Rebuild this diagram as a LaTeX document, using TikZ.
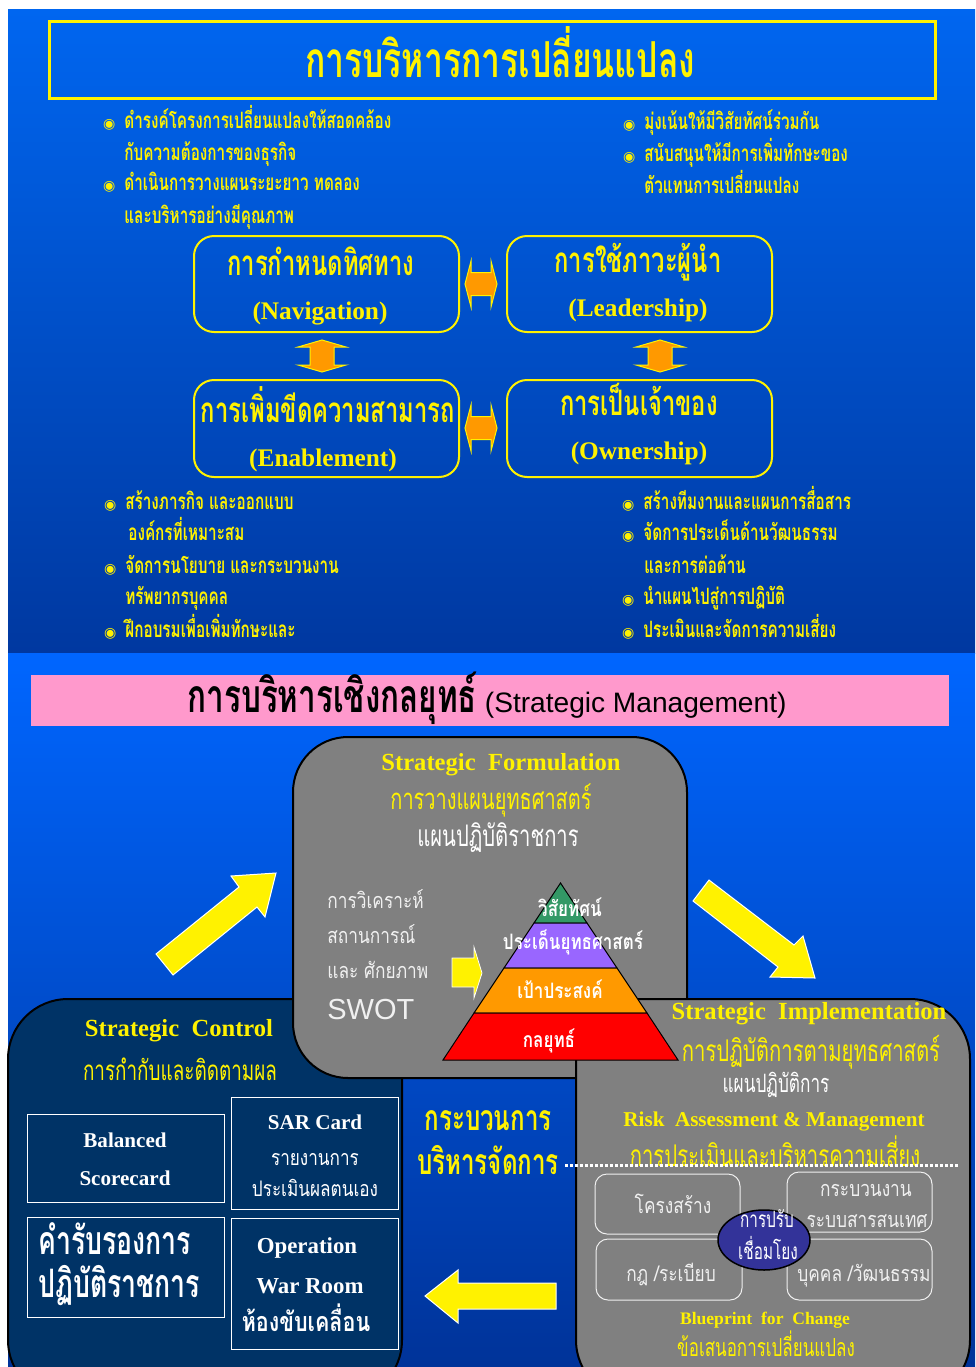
\documentclass[tikz,border=0pt]{standalone}
\usepackage{fontspec}
\usetikzlibrary{shapes.geometric}
\newfontfamily\thaicn[Script=Thai,FakeStretch=0.68]{Loma}
\newfontfamily\thaiwd[Script=Thai,FakeStretch=0.8]{Loma}
\newfontfamily\latser{Liberation Serif}
\newfontfamily\latsans{Liberation Sans}
\newfontfamily\symfont{DejaVu Sans}
\newcommand{\fsz}[1]{\fontsize{#1}{#1}\selectfont}
\newcommand{\itm}{\llap{{\symfont\mdseries\fsz{8}◉}\hspace{1.8mm}}}
\definecolor{panelhi}{RGB}{0,102,240}
\definecolor{panello}{RGB}{0,56,160}
\definecolor{lowhi}{RGB}{0,102,255}
\definecolor{lowlo}{RGB}{0,51,153}
\definecolor{dblorange}{RGB}{255,153,0}
\definecolor{bannerpink}{RGB}{255,153,204}
\definecolor{stepgray}{RGB}{128,128,128}
\definecolor{ctrlnavy}{RGB}{0,51,102}
\definecolor{pyrgreen}{RGB}{51,153,102}
\definecolor{pyrpurple}{RGB}{153,102,255}
\definecolor{linkblue}{RGB}{51,51,153}
\definecolor{softwhite}{RGB}{240,240,240}
\begin{document}
\begin{tikzpicture}[scale=0.2,
  bul/.style={anchor=base west,text=yellow,font=\thaicn\bfseries\fsz{12.8}},
  boxth/.style={anchor=base,text=yellow,font=\thaicn\bfseries\fsz{19.9}},
  boxen/.style={anchor=base,text=yellow,font=\latser\bfseries\fsz{14.4}},
  navbox/.style={draw=yellow,line width=0.4mm,rounded corners=4mm},
  dblarr/.style={fill=dblorange,draw=yellow,line width=0.2mm},
  bigarr/.style={fill=yellow,draw=white,line width=0.2mm},
  heading/.style={anchor=base,text=yellow,font=\latser\bfseries\fsz{14}},
  thy/.style={anchor=base,text=yellow,font=\thaicn\fsz{17}},
  thw/.style={anchor=base,text=white,font=\thaicn\fsz{14.4}},
  pyr/.style={draw=black,line width=0.2mm},
  pyrtx/.style={anchor=base,text=white,font=\thaiwd\bfseries\fsz{12.1}},
  cell/.style={draw=white,line width=0.2mm},
  cellen/.style={anchor=base,text=white,font=\latser\bfseries\fsz{12}},
  cellth/.style={anchor=base,text=white,font=\thaiwd\fsz{12.2}},
  part/.style={draw=softwhite,line width=0.2mm,rounded corners=2.4mm},
  partth/.style={anchor=base,text=softwhite,font=\thaiwd\fsz{12.3}}
]
\tikzstyle{every node}+=[inner sep=0pt]
\useasboundingbox (0,0) rectangle (97.5,-136.7);
\clip (0,0) rectangle (97.5,-136.7);
\shade[top color=panelhi,bottom color=panello] (0.8,-0.9) rectangle (97.5,-65.3);
\shade[top color=lowhi,bottom color=lowlo] (0.8,-65.3) rectangle (97.5,-136.7);

\draw[yellow,line width=0.6mm] (4.9,-2.1) rectangle (93.5,-9.8);
\node[anchor=base,text=yellow,font=\thaicn\bfseries\fsz{28.2}] (title) at (50.0,-7.7) {การบริหารการเปลี่ยนแปลง};

\node[bul] (navA) at (12.4,-12.85) {\itm ดำรงค์โครงการเปลี่ยนแปลงให้สอดคล้อง};
\node[bul] (navB) at (12.4,-16.05) {กับความต้องการของธุรกิจ};
\node[bul] (navC) at (12.4,-19.05) {\itm ดำเนินการวางแผนระยะยาว ทดลอง};
\node[bul] (navD) at (12.4,-22.35) {และบริหารอย่างมีคุณภาพ};
\node[bul] (leadA) at (64.4,-12.95) {\itm มุ่งเน้นให้มีวิสัยทัศน์ร่วมกัน};
\node[bul] (leadB) at (64.4,-16.15) {\itm สนับสนุนให้มีการเพิ่มทักษะของ};
\node[bul] (leadC) at (64.4,-19.35) {ตัวแทนการเปลี่ยนแปลง};

\draw[navbox] (19.4,-23.6) rectangle (45.9,-33.2);
\node[boxth] (navth) at (32.1,-27.5) {การกำหนดทิศทาง};
\node[boxen] (naven) at (32.0,-31.9) {(Navigation)};
\draw[navbox] (50.7,-23.6) rectangle (77.2,-33.2);
\node[boxth] (leadth) at (63.8,-27.2) {การใช้ภาวะผู้นำ};
\node[boxen] (leaden) at (63.8,-31.6) {(Leadership)};
\draw[navbox] (19.4,-38.0) rectangle (45.9,-47.7);
\node[boxth] (enabth) at (32.8,-42.2) {การเพิ่มขีดความสามารถ};
\node[boxen] (enaben) at (32.3,-46.6) {(Enablement)};
\draw[navbox] (50.7,-38.0) rectangle (77.2,-47.7);
\node[boxth] (ownth) at (63.9,-41.5) {การเป็นเจ้าของ};
\node[boxen] (ownen) at (63.9,-45.9) {(Ownership)};

\filldraw[dblarr,shift={(48.1,-28.4)}] (-1.6,0) -- (-1,2.3) -- (-1,1.15) -- (1,1.15) -- (1,2.3) -- (1.6,0) -- (1,-2.3) -- (1,-1.15) -- (-1,-1.15) -- (-1,-2.3) -- cycle;
\filldraw[dblarr,shift={(48.1,-42.8)}] (-1.6,0) -- (-1,2.3) -- (-1,1.15) -- (1,1.15) -- (1,2.3) -- (1.6,0) -- (1,-2.3) -- (1,-1.15) -- (-1,-1.15) -- (-1,-2.3) -- cycle;
\filldraw[dblarr,shift={(32.2,-35.6)}] (0,1.6) -- (2.4,0.9) -- (1.2,0.9) -- (1.2,-0.9) -- (2.4,-0.9) -- (0,-1.6) -- (-2.4,-0.9) -- (-1.2,-0.9) -- (-1.2,0.9) -- (-2.4,0.9) -- cycle;
\filldraw[dblarr,shift={(66.0,-35.6)}] (0,1.6) -- (2.4,0.9) -- (1.2,0.9) -- (1.2,-0.9) -- (2.4,-0.9) -- (0,-1.6) -- (-2.4,-0.9) -- (-1.2,-0.9) -- (-1.2,0.9) -- (-2.4,0.9) -- cycle;

\node[bul] (enabA) at (12.5,-50.95) {\itm สร้างภารกิจ และออกแบบ};
\node[bul] (enabB) at (12.8,-54.05) {องค์กรที่เหมาะสม};
\node[bul] (enabC) at (12.5,-57.35) {\itm จัดการนโยบาย และกระบวนงาน};
\node[bul] (enabD) at (12.5,-60.45) {ทรัพยากรบุคคล};
\node[bul] (enabE) at (12.5,-63.75) {\itm ฝึกอบรมเพื่อเพิ่มทักษะและ};
\node[bul] (ownA) at (64.3,-50.95) {\itm สร้างทีมงานและแผนการสื่อสาร};
\node[bul] (ownB) at (64.3,-54.05) {\itm จัดการประเด็นด้านวัฒนธรรม};
\node[bul] (ownC) at (64.4,-57.35) {และการต่อต้าน};
\node[bul] (ownD) at (64.3,-60.45) {\itm นำแผนไปสู่การปฏิบัติ};
\node[bul] (ownE) at (64.3,-63.75) {\itm ประเมินและจัดการความเสี่ยง};

\fill[bannerpink] (3.1,-67.5) rectangle (94.9,-72.6);
\node[anchor=base,font=\latsans\fsz{16}] (banner) at (48.7,-71.2) {{\thaicn\bfseries\fsz{26.3}การบริหารเชิงกลยุทธ์} (Strategic Management)};

\filldraw[bigarr] (15.6,-95.4) -- (23.9,-88.7) -- (23.1,-87.6) -- (27.6,-87.3) -- (26.5,-91.7) -- (25.7,-90.7) -- (17.3,-97.5) -- cycle;
\filldraw[bigarr] (69.3,-90.1) -- (70.9,-88.0) -- (79.4,-94.5) -- (80.3,-93.6) -- (81.5,-97.8) -- (77.0,-97.7) -- (77.8,-96.7) -- cycle;

\filldraw[fill=ctrlnavy,draw=black,line width=0.4mm,rounded corners=12mm] (0.8,-99.9) rectangle (40.2,-140);
\node[heading] (ctrl) at (17.9,-103.6) {Strategic\ \ Control};
\node[thy,font=\thaicn\fsz{15.8}] (ctrlth) at (18.0,-108.0) {การกำกับและติดตามผล};
\draw[cell] (2.7,-111.4) rectangle (22.4,-120.2);
\node[cellen] (bscA) at (12.5,-114.7) {Balanced};
\node[cellen] (bscB) at (12.5,-118.5) {Scorecard};
\draw[cell] (23.1,-109.7) rectangle (39.8,-120.9);
\node[cellen] (sar) at (31.5,-112.9) {SAR Card};
\node[cellth] (sarA) at (31.5,-116.5) {รายงานการ};
\node[cellth] (sarB) at (31.5,-119.6) {ประเมินผลตนเอง};
\draw[cell] (2.7,-121.7) rectangle (22.4,-131.7);
\node[anchor=base west,text=white,font=\thaicn\bfseries\fsz{22.3}] (pactA) at (3.8,-125.4) {คำรับรองการ};
\node[anchor=base west,text=white,font=\thaicn\bfseries\fsz{22.3}] (pactB) at (3.8,-129.7) {ปฏิบัติราชการ};
\draw[cell] (23.1,-121.8) rectangle (39.8,-134.9);
\node[cellen,font=\latser\bfseries\fsz{13}] (warA) at (30.7,-125.3) {Operation};
\node[cellen,font=\latser\bfseries\fsz{13}] (warB) at (31.0,-129.3) {War Room};
\node[cellth,font=\thaiwd\bfseries\fsz{15.3}] (warC) at (30.6,-133.1) {ห้องขับเคลื่อน};

\filldraw[fill=stepgray,draw=black,line width=0.4mm,rounded corners=11mm] (29.3,-73.7) rectangle (68.7,-107.8);
\node[heading] (form) at (50.1,-77.05) {Strategic\ \ Formulation};
\node[thy,font=\thaicn\fsz{16.7}] (formth) at (49.1,-80.9) {การวางแผนยุทธศาสตร์};
\node[thw,font=\thaicn\fsz{16.9}] (formpl) at (49.8,-84.65) {แผนปฏิบัติราชการ};
\node[anchor=base west,text=softwhite,font=\thaiwd\fsz{12.3}] (swotA) at (32.7,-90.85) {การวิเคราะห์};
\node[anchor=base west,text=softwhite,font=\thaiwd\fsz{12.3}] (swotB) at (32.7,-94.35) {สถานการณ์};
\node[anchor=base west,text=softwhite,font=\thaiwd\fsz{12.3}] (swotC) at (32.7,-97.85) {และ ศักยภาพ};
\node[anchor=base west,text=softwhite,font=\latsans\fsz{16.5}] (swot) at (32.7,-101.9) {SWOT};
\filldraw[fill=yellow,draw=white,line width=0.15mm] (45.2,-95.8) -- (47.4,-95.8) -- (47.4,-94.7) -- (48.2,-97.3) -- (47.4,-99.8) -- (47.4,-98.7) -- (45.2,-98.7) -- cycle;

\filldraw[fill=stepgray,draw=black,line width=0.4mm,rounded corners=12mm] (57.6,-99.9) rectangle (97.0,-140);

\filldraw[pyr,fill=pyrgreen] (56.05,-88.3) -- (58.7,-92.3) -- (53.4,-92.3) -- cycle;
\filldraw[pyr,fill=pyrpurple] (53.4,-92.3) -- (58.7,-92.3) -- (61.7,-96.8) -- (50.4,-96.8) -- cycle;
\filldraw[pyr,fill=dblorange] (50.4,-96.8) -- (61.7,-96.8) -- (64.7,-101.3) -- (47.4,-101.3) -- cycle;
\filldraw[pyr,fill=red] (47.4,-101.3) -- (64.7,-101.3) -- (67.8,-106.0) -- (44.3,-106.0) -- cycle;
\node[pyrtx] (vision) at (57.0,-91.6) {วิสัยทัศน์};
\node[pyrtx] (issue) at (57.3,-94.9) {ประเด็นยุทธศาสตร์};
\node[pyrtx] (goal) at (56.0,-99.8) {เป้าประสงค์};
\node[pyrtx] (strat) at (54.9,-104.7) {กลยุทธ์};

\node[heading] (impl) at (80.9,-101.9) {Strategic\ \ Implementation};
\node[thy] (implth) at (81.1,-106.1) {การปฏิบัติการตามยุทธศาสตร์};
\node[thw] (implpl) at (77.6,-109.2) {แผนปฏิบัติการ};
\node[heading,font=\latser\bfseries\fsz{12}] (risk) at (77.4,-112.6) {Risk\ \ Assessment \& Management};
\node[thy] (riskth) at (77.5,-116.6) {การประเมินและบริหารความเสี่ยง};
\draw[white,line width=0.6mm,dash pattern=on 0.6mm off 0.4mm] (56.5,-116.5) -- (95.8,-116.5);
\draw[part] (59.5,-117.4) rectangle (74.0,-123.4);
\node[partth] (struct) at (67.3,-121.3) {โครงสร้าง};
\draw[part] (78.7,-117.2) rectangle (93.2,-123.2);
\node[partth] (procw) at (86.6,-119.6) {กระบวนงาน};
\node[partth] (infos) at (86.7,-122.7) {ระบบสารสนเทศ};
\draw[part] (59.6,-123.9) rectangle (74.2,-130.0);
\node[partth] (rules) at (67.1,-128.1) {กฎ /ระเบียบ};
\draw[part] (78.7,-123.9) rectangle (93.2,-130.0);
\node[partth] (people) at (86.4,-128.1) {บุคคล /วัฒนธรรม};
\filldraw[fill=linkblue,draw=black,line width=0.3mm] (76.4,-124.0) ellipse (4.6 and 3.0);
\node[partth,text=white,font=\thaicn\fsz{12.8}] (linkA) at (76.7,-122.7) {การปรับ};
\node[partth,text=white,font=\thaicn\fsz{12.8}] (linkB) at (76.8,-125.9) {เชื่อมโยง};
\node[heading,font=\latser\bfseries\fsz{10}] (blue) at (76.5,-132.4) {Blueprint\ \ for\ \ Change};
\node[thy,font=\thaicn\fsz{14.2}] (blueth) at (76.6,-135.6) {ข้อเสนอการเปลี่ยนแปลง};

\node[anchor=base,text=yellow,font=\thaicn\bfseries\fsz{20.2}] (procA) at (48.8,-113.0) {กระบวนการ};
\node[anchor=base,text=yellow,font=\thaicn\bfseries\fsz{20.2}] (procB) at (48.8,-117.4) {บริหารจัดการ};
\filldraw[bigarr] (42.5,-129.6) -- (45.8,-127.0) -- (45.8,-128.3) -- (55.6,-128.3) -- (55.6,-130.9) -- (45.8,-130.9) -- (45.8,-132.3) -- cycle;
\end{tikzpicture}
\end{document}
